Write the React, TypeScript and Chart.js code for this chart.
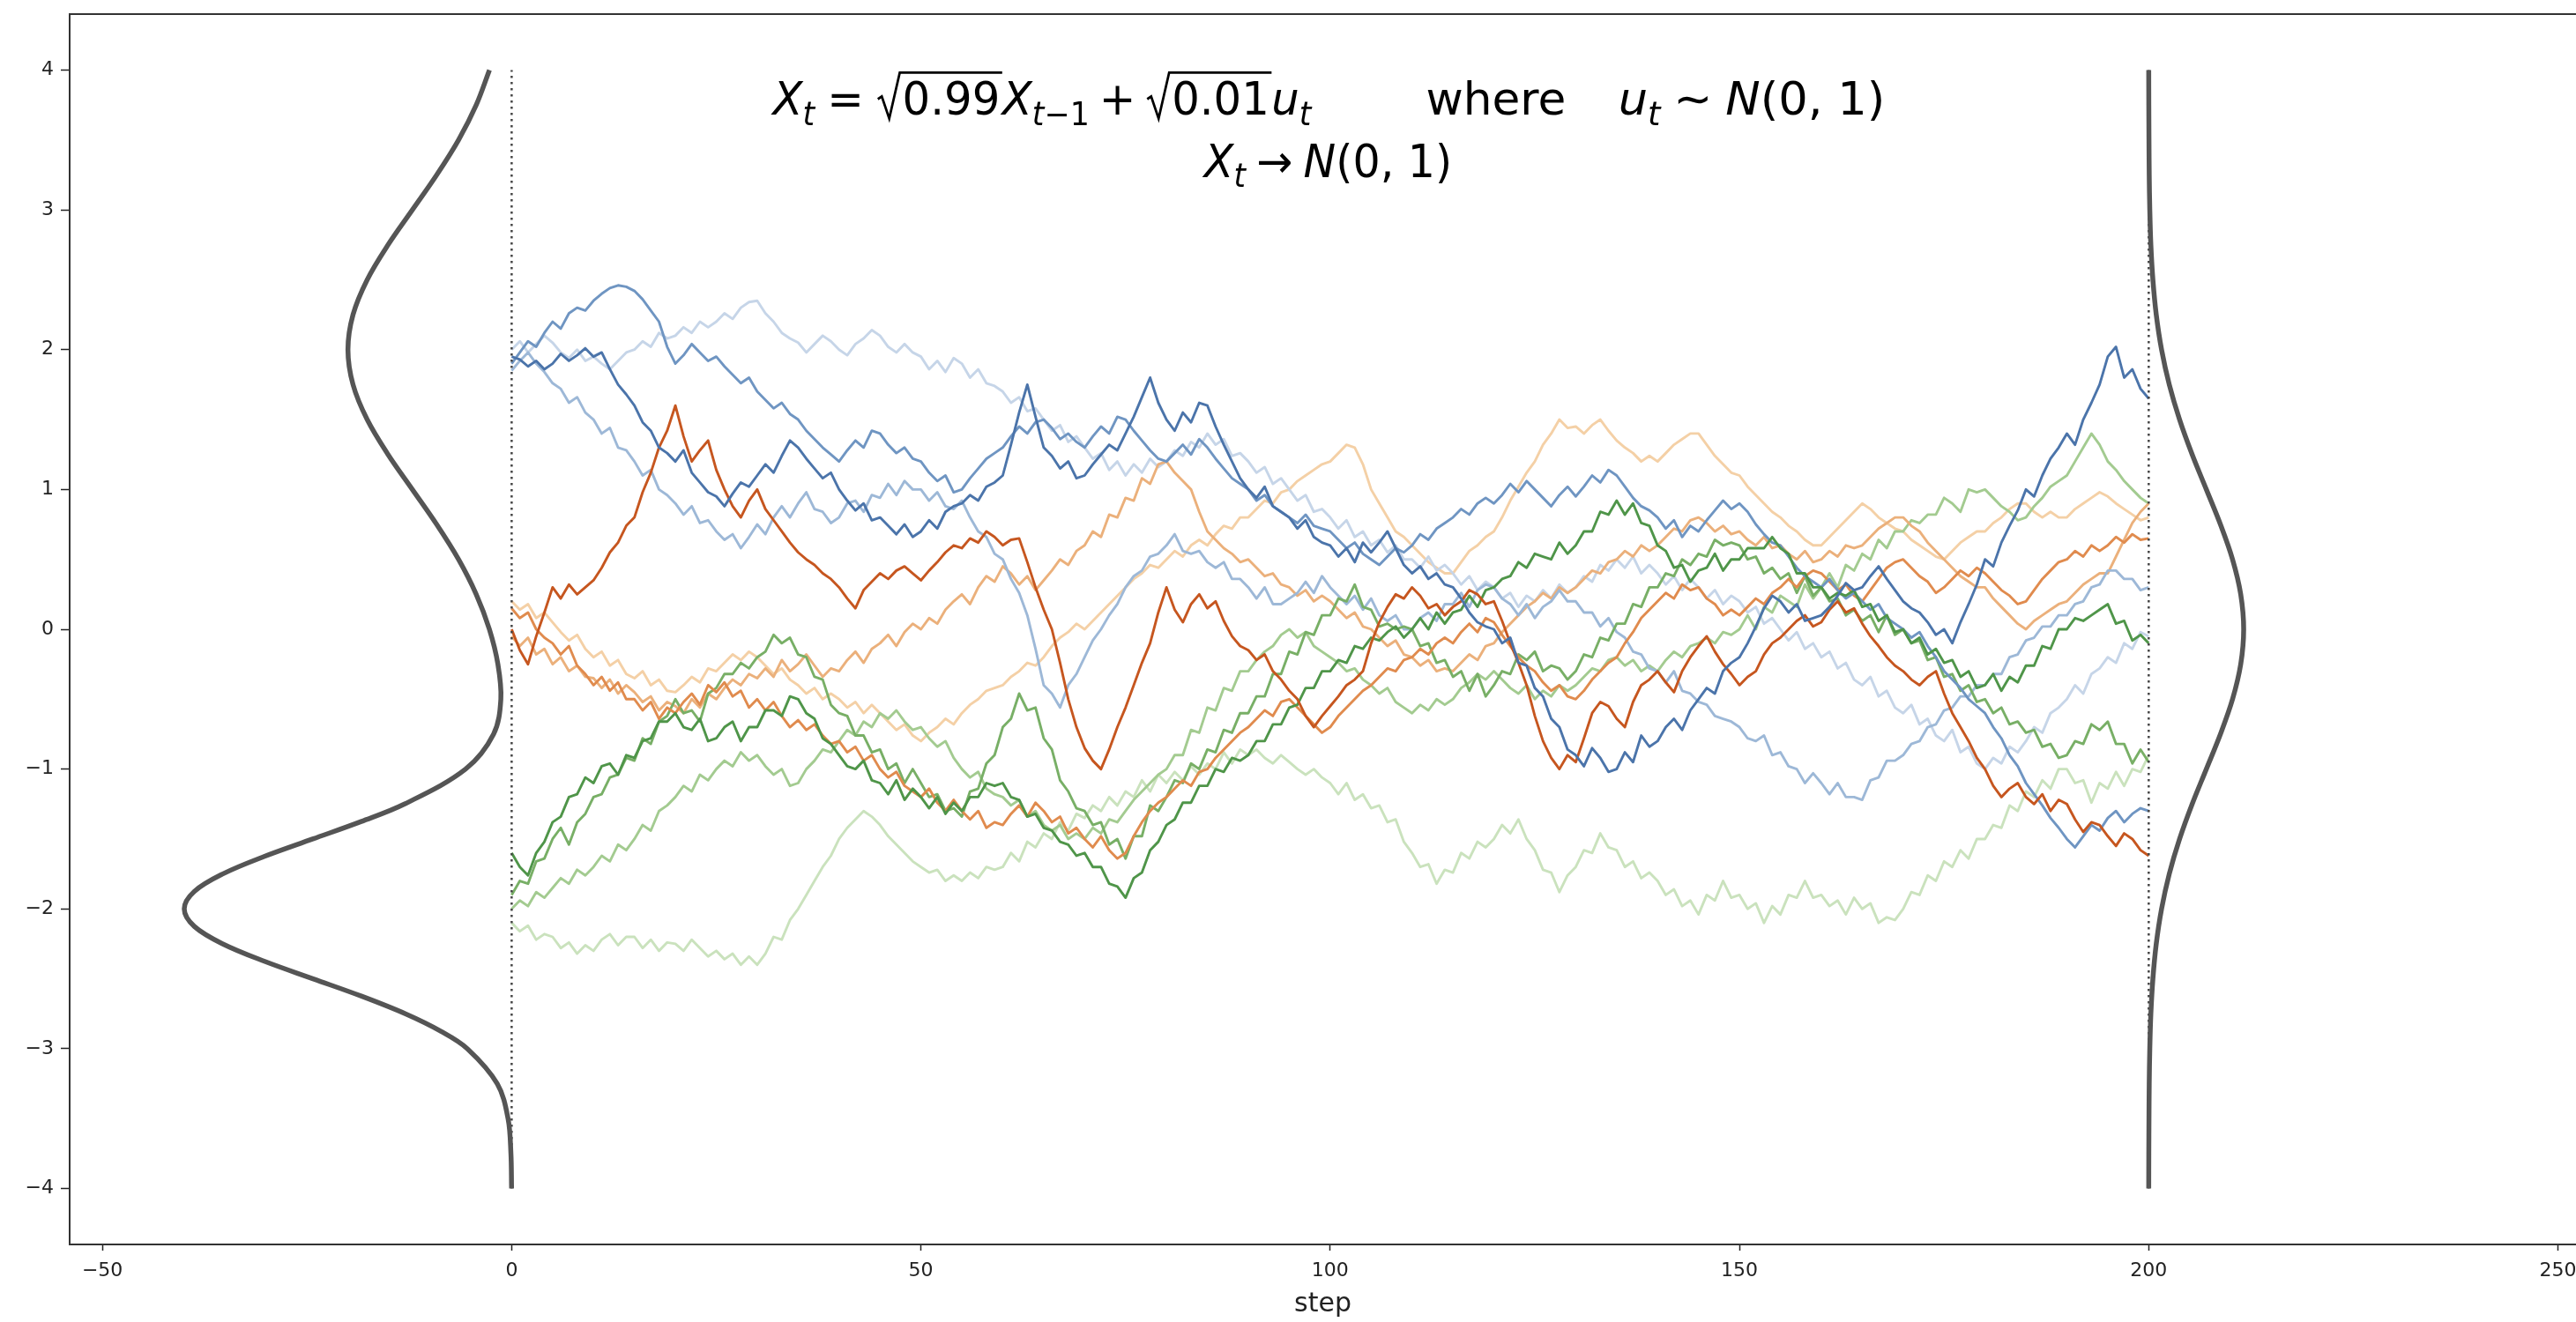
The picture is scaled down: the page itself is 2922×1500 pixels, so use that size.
import React, { useEffect, useRef } from 'react';
import { Chart, registerables } from 'chart.js';

Chart.register(...registerables);

// ---------- axes ----------
const STEPS = Array.from({ length: 201 }, (_, i) => i);
const X_TICKS = [-50, 0, 50, 100, 150, 200, 250];
const Y_TICKS = [-4, -3, -2, -1, 0, 1, 2, 3, 4];
const X_MIN = -54;
const X_MAX = 252.2;
const Y_MIN = -4.4;
const Y_MAX = 4.4;
const X_TITLE = 'step';

// ---------- random walks (value at each step 0..200) ----------
const BLUE_1 = [1.95,1.93,1.88,1.92,1.86,1.90,1.97,1.92,1.96,2.01,
1.95,1.98,1.86,1.75,1.68,1.60,1.48,1.42,1.30,1.26,
1.20,1.28,1.12,1.05,0.98,0.95,0.88,0.97,1.05,1.02,
1.10,1.18,1.12,1.24,1.35,1.30,1.22,1.15,1.08,1.12,
1.00,0.92,0.85,0.90,0.78,0.80,0.74,0.68,0.75,0.66,
0.70,0.78,0.72,0.84,0.88,0.90,0.96,0.92,1.02,1.05,
1.10,1.32,1.55,1.75,1.52,1.30,1.24,1.15,1.20,1.08,
1.10,1.18,1.25,1.32,1.28,1.40,1.52,1.66,1.80,1.62,
1.50,1.42,1.55,1.48,1.62,1.60,1.45,1.32,1.20,1.08,
1.00,0.94,1.02,0.88,0.84,0.80,0.72,0.78,0.66,0.62,
0.60,0.52,0.58,0.48,0.62,0.55,0.62,0.70,0.58,0.46,
0.40,0.45,0.36,0.40,0.32,0.30,0.22,0.12,0.05,0.02,
0.00,-0.10,-0.06,-0.24,-0.26,-0.42,-0.48,-0.64,-0.70,-0.86,
-0.90,-0.98,-0.85,-0.92,-1.02,-1.00,-0.88,-0.95,-0.76,-0.84,
-0.80,-0.70,-0.64,-0.72,-0.58,-0.50,-0.42,-0.46,-0.30,-0.24,
-0.20,-0.10,0.02,0.15,0.24,0.20,0.12,0.18,0.06,0.08,
0.10,0.16,0.24,0.33,0.28,0.30,0.38,0.45,0.36,0.28,
0.20,0.15,0.12,0.05,-0.04,0.00,-0.10,0.05,0.18,0.32,
0.50,0.45,0.62,0.74,0.85,1.00,0.95,1.10,1.22,1.30,
1.40,1.32,1.50,1.62,1.75,1.95,2.02,1.80,1.86,1.72,
1.65];

const BLUE_2 = [1.90,1.98,2.06,2.02,2.12,2.20,2.15,2.26,2.30,2.28,
2.35,2.40,2.44,2.46,2.45,2.42,2.36,2.28,2.20,2.02,
1.90,1.96,2.04,1.98,1.92,1.95,1.88,1.82,1.76,1.80,
1.70,1.64,1.58,1.62,1.54,1.50,1.42,1.36,1.30,1.25,
1.20,1.28,1.35,1.30,1.42,1.40,1.32,1.26,1.30,1.22,
1.20,1.12,1.06,1.10,0.98,1.00,1.08,1.15,1.22,1.26,
1.30,1.38,1.45,1.40,1.48,1.50,1.44,1.36,1.40,1.34,
1.30,1.38,1.45,1.40,1.52,1.50,1.42,1.35,1.28,1.22,
1.20,1.26,1.32,1.25,1.36,1.30,1.22,1.15,1.08,1.04,
1.00,0.92,0.96,0.88,0.84,0.80,0.76,0.82,0.74,0.72,
0.70,0.64,0.58,0.62,0.54,0.50,0.46,0.52,0.58,0.55,
0.60,0.68,0.64,0.72,0.76,0.80,0.86,0.82,0.90,0.94,
0.90,0.96,1.04,0.98,1.06,1.00,0.94,0.88,0.96,1.02,
0.95,1.02,1.10,1.05,1.14,1.10,1.02,0.94,0.88,0.85,
0.80,0.72,0.78,0.66,0.74,0.70,0.78,0.85,0.92,0.86,
0.90,0.84,0.75,0.68,0.62,0.60,0.52,0.44,0.38,0.34,
0.30,0.36,0.28,0.22,0.26,0.20,0.14,0.18,0.08,0.04,
0.00,-0.06,-0.02,-0.12,-0.20,-0.30,-0.36,-0.42,-0.50,-0.55,
-0.60,-0.70,-0.78,-0.90,-0.98,-1.10,-1.18,-1.26,-1.35,-1.42,
-1.50,-1.56,-1.48,-1.40,-1.44,-1.35,-1.30,-1.38,-1.32,-1.28,
-1.30];

const BLUE_3 = [1.85,1.92,1.98,1.90,1.84,1.76,1.72,1.62,1.66,1.55,
1.50,1.40,1.44,1.30,1.28,1.20,1.10,1.14,1.00,0.96,
0.90,0.82,0.88,0.76,0.78,0.70,0.64,0.68,0.58,0.66,
0.75,0.68,0.80,0.88,0.80,0.90,0.98,0.86,0.84,0.76,
0.80,0.90,0.92,0.84,0.96,0.94,1.04,0.96,1.06,1.00,
1.00,0.92,0.98,0.88,0.86,0.92,0.80,0.70,0.66,0.54,
0.50,0.36,0.26,0.10,-0.14,-0.40,-0.46,-0.56,-0.40,-0.32,
-0.20,-0.08,0.00,0.10,0.18,0.30,0.38,0.42,0.52,0.54,
0.60,0.68,0.56,0.54,0.56,0.48,0.44,0.48,0.36,0.36,
0.30,0.22,0.30,0.18,0.18,0.22,0.26,0.34,0.26,0.38,
0.30,0.24,0.18,0.24,0.14,0.22,0.10,0.06,0.10,0.00,
0.00,0.08,0.12,0.06,0.18,0.18,0.26,0.16,0.28,0.32,
0.30,0.22,0.18,0.10,0.18,0.08,0.16,0.20,0.28,0.20,
0.20,0.12,0.12,0.02,0.08,-0.02,-0.06,-0.16,-0.18,-0.28,
-0.30,-0.38,-0.30,-0.44,-0.46,-0.52,-0.54,-0.62,-0.64,-0.66,
-0.70,-0.78,-0.80,-0.76,-0.90,-0.88,-0.98,-1.00,-1.10,-1.03,
-1.10,-1.18,-1.10,-1.20,-1.20,-1.22,-1.08,-1.06,-0.94,-0.94,
-0.90,-0.82,-0.80,-0.70,-0.68,-0.58,-0.56,-0.48,-0.48,-0.40,
-0.40,-0.32,-0.32,-0.20,-0.18,-0.08,-0.06,0.02,0.02,0.10,
0.10,0.18,0.20,0.30,0.32,0.42,0.42,0.36,0.36,0.28,
0.30];

const BLUE_4 = [2.00,2.06,1.98,2.04,2.10,2.05,1.98,1.94,2.00,1.92,
1.95,1.90,1.86,1.92,1.98,2.00,2.06,2.02,2.12,2.08,
2.10,2.16,2.12,2.20,2.16,2.20,2.26,2.22,2.30,2.34,
2.35,2.26,2.20,2.12,2.08,2.05,1.98,2.04,2.10,2.06,
2.00,1.96,2.04,2.08,2.14,2.10,2.02,1.98,2.04,1.98,
1.95,1.86,1.92,1.84,1.94,1.90,1.80,1.86,1.76,1.74,
1.70,1.62,1.66,1.56,1.58,1.50,1.42,1.46,1.34,1.38,
1.30,1.22,1.26,1.14,1.20,1.10,1.18,1.12,1.22,1.16,
1.20,1.28,1.24,1.34,1.30,1.40,1.32,1.36,1.24,1.26,
1.20,1.12,1.16,1.04,1.08,1.00,0.92,0.96,0.84,0.86,
0.80,0.72,0.78,0.66,0.70,0.60,0.64,0.55,0.60,0.50,
0.50,0.44,0.52,0.42,0.46,0.40,0.32,0.38,0.28,0.34,
0.30,0.22,0.26,0.16,0.24,0.20,0.28,0.22,0.32,0.26,
0.30,0.38,0.34,0.46,0.42,0.50,0.44,0.52,0.40,0.46,
0.40,0.32,0.38,0.28,0.36,0.30,0.22,0.28,0.18,0.24,
0.20,0.12,0.16,0.04,0.08,0.00,-0.08,-0.02,-0.14,-0.10,
-0.20,-0.16,-0.28,-0.24,-0.36,-0.40,-0.34,-0.48,-0.44,-0.56,
-0.60,-0.54,-0.68,-0.64,-0.76,-0.80,-0.72,-0.88,-0.84,-0.96,
-1.00,-0.92,-0.96,-0.84,-0.88,-0.80,-0.70,-0.74,-0.60,-0.56,
-0.50,-0.40,-0.46,-0.32,-0.28,-0.20,-0.24,-0.10,-0.14,-0.02,
-0.05];

const ORANGE_1 = [0.00,-0.15,-0.25,-0.05,0.12,0.30,0.22,0.32,0.25,0.30,
0.35,0.44,0.55,0.62,0.74,0.80,0.98,1.12,1.30,1.42,
1.60,1.38,1.20,1.28,1.35,1.14,1.00,0.88,0.80,0.92,
1.00,0.86,0.78,0.70,0.62,0.55,0.50,0.46,0.40,0.36,
0.30,0.22,0.15,0.28,0.34,0.40,0.36,0.42,0.45,0.40,
0.35,0.42,0.48,0.55,0.60,0.58,0.65,0.62,0.70,0.66,
0.60,0.64,0.65,0.48,0.30,0.14,0.00,-0.24,-0.50,-0.70,
-0.85,-0.94,-1.00,-0.86,-0.70,-0.56,-0.40,-0.24,-0.10,0.12,
0.30,0.14,0.05,0.18,0.25,0.15,0.20,0.06,-0.05,-0.12,
-0.15,-0.22,-0.18,-0.30,-0.36,-0.44,-0.50,-0.62,-0.70,-0.62,
-0.55,-0.48,-0.40,-0.36,-0.30,-0.10,0.05,0.16,0.25,0.22,
0.30,0.24,0.15,0.18,0.10,0.16,0.20,0.28,0.25,0.18,
0.20,0.06,-0.10,-0.24,-0.40,-0.62,-0.80,-0.92,-1.00,-0.90,
-0.95,-0.78,-0.60,-0.52,-0.55,-0.64,-0.70,-0.52,-0.40,-0.36,
-0.30,-0.38,-0.45,-0.30,-0.20,-0.12,-0.05,-0.16,-0.25,-0.32,
-0.40,-0.34,-0.30,-0.18,-0.10,-0.06,0.00,0.06,0.10,0.02,
0.05,0.14,0.20,0.12,0.15,0.04,-0.05,-0.12,-0.20,-0.26,
-0.30,-0.36,-0.40,-0.34,-0.30,-0.46,-0.60,-0.70,-0.80,-0.92,
-1.00,-1.12,-1.20,-1.14,-1.10,-1.20,-1.25,-1.18,-1.30,-1.22,
-1.25,-1.36,-1.45,-1.38,-1.40,-1.48,-1.55,-1.46,-1.50,-1.58,
-1.62];

const ORANGE_2 = [0.15,0.08,0.12,0.00,-0.06,-0.10,-0.18,-0.12,-0.26,-0.32,
-0.40,-0.34,-0.44,-0.38,-0.50,-0.50,-0.58,-0.52,-0.64,-0.56,
-0.60,-0.52,-0.46,-0.54,-0.40,-0.45,-0.38,-0.48,-0.44,-0.56,
-0.50,-0.58,-0.52,-0.62,-0.70,-0.65,-0.72,-0.68,-0.76,-0.82,
-0.80,-0.88,-0.84,-0.94,-0.90,-1.00,-1.06,-1.02,-1.12,-1.16,
-1.20,-1.14,-1.24,-1.30,-1.22,-1.30,-1.36,-1.30,-1.42,-1.38,
-1.40,-1.32,-1.26,-1.34,-1.24,-1.30,-1.38,-1.34,-1.46,-1.42,
-1.50,-1.56,-1.48,-1.58,-1.64,-1.60,-1.48,-1.38,-1.30,-1.24,
-1.20,-1.14,-1.08,-1.12,-1.02,-1.00,-0.92,-0.86,-0.80,-0.74,
-0.70,-0.64,-0.58,-0.62,-0.52,-0.50,-0.56,-0.62,-0.68,-0.74,
-0.70,-0.62,-0.56,-0.50,-0.44,-0.40,-0.34,-0.28,-0.30,-0.22,
-0.20,-0.14,-0.18,-0.10,-0.06,-0.10,-0.02,0.04,-0.02,0.08,
0.05,-0.04,-0.12,-0.20,-0.26,-0.30,-0.38,-0.44,-0.40,-0.48,
-0.50,-0.44,-0.36,-0.30,-0.24,-0.20,-0.10,-0.02,0.08,0.14,
0.20,0.26,0.22,0.32,0.28,0.30,0.22,0.18,0.10,0.14,
0.10,0.16,0.22,0.18,0.26,0.30,0.36,0.30,0.38,0.42,
0.40,0.34,0.28,0.32,0.24,0.20,0.28,0.36,0.44,0.48,
0.50,0.44,0.38,0.34,0.26,0.30,0.36,0.42,0.38,0.44,
0.40,0.34,0.28,0.24,0.18,0.20,0.28,0.36,0.42,0.48,
0.50,0.56,0.52,0.60,0.56,0.60,0.66,0.62,0.68,0.64,
0.65];

const ORANGE_3 = [-0.05,-0.12,-0.06,-0.18,-0.14,-0.25,-0.20,-0.30,-0.26,-0.34,
-0.35,-0.42,-0.36,-0.46,-0.40,-0.45,-0.52,-0.48,-0.58,-0.52,
-0.55,-0.60,-0.50,-0.56,-0.46,-0.50,-0.42,-0.36,-0.40,-0.32,
-0.35,-0.28,-0.34,-0.22,-0.30,-0.25,-0.18,-0.26,-0.34,-0.28,
-0.30,-0.22,-0.16,-0.24,-0.14,-0.10,-0.04,-0.12,-0.02,0.04,
0.00,0.08,0.04,0.14,0.20,0.25,0.18,0.30,0.38,0.34,
0.45,0.40,0.32,0.38,0.28,0.35,0.42,0.50,0.46,0.56,
0.60,0.70,0.66,0.82,0.80,0.94,0.92,1.08,1.04,1.18,
1.20,1.12,1.06,1.00,0.84,0.70,0.64,0.58,0.54,0.48,
0.50,0.44,0.38,0.40,0.32,0.30,0.24,0.28,0.20,0.24,
0.20,0.14,0.08,0.12,0.02,0.00,-0.06,-0.12,-0.08,-0.18,
-0.20,-0.26,-0.22,-0.30,-0.28,-0.30,-0.24,-0.18,-0.22,-0.12,
-0.10,-0.02,0.04,0.10,0.16,0.20,0.26,0.22,0.30,0.26,
0.30,0.36,0.42,0.40,0.48,0.50,0.56,0.52,0.60,0.56,
0.60,0.66,0.72,0.70,0.78,0.80,0.76,0.70,0.74,0.68,
0.70,0.64,0.60,0.66,0.58,0.60,0.54,0.50,0.56,0.48,
0.50,0.56,0.52,0.60,0.58,0.60,0.66,0.72,0.76,0.80,
0.80,0.74,0.70,0.62,0.56,0.50,0.44,0.38,0.34,0.30,
0.30,0.22,0.16,0.10,0.04,0.00,0.06,0.10,0.14,0.18,
0.20,0.26,0.32,0.36,0.40,0.40,0.52,0.64,0.76,0.84,
0.90];

const ORANGE_4 = [0.20,0.14,0.18,0.08,0.12,0.05,-0.02,-0.08,-0.04,-0.14,
-0.20,-0.16,-0.26,-0.22,-0.32,-0.35,-0.30,-0.40,-0.36,-0.44,
-0.45,-0.40,-0.34,-0.38,-0.28,-0.30,-0.24,-0.18,-0.22,-0.16,
-0.20,-0.26,-0.32,-0.28,-0.36,-0.40,-0.46,-0.42,-0.50,-0.46,
-0.50,-0.56,-0.52,-0.60,-0.54,-0.60,-0.66,-0.72,-0.68,-0.76,
-0.80,-0.74,-0.70,-0.64,-0.68,-0.60,-0.54,-0.50,-0.44,-0.42,
-0.40,-0.34,-0.30,-0.24,-0.26,-0.20,-0.12,-0.06,-0.02,0.04,
0.00,0.06,0.12,0.18,0.24,0.30,0.36,0.40,0.46,0.44,
0.50,0.56,0.52,0.60,0.64,0.60,0.68,0.74,0.72,0.80,
0.80,0.86,0.92,0.90,0.98,1.00,1.06,1.10,1.14,1.18,
1.20,1.26,1.32,1.30,1.18,1.00,0.90,0.80,0.70,0.66,
0.60,0.54,0.48,0.44,0.40,0.40,0.48,0.56,0.60,0.66,
0.70,0.80,0.92,1.02,1.12,1.20,1.32,1.40,1.50,1.44,
1.45,1.40,1.46,1.50,1.42,1.35,1.30,1.26,1.20,1.24,
1.20,1.26,1.32,1.36,1.40,1.40,1.32,1.24,1.18,1.12,
1.10,1.02,0.96,0.90,0.84,0.80,0.74,0.70,0.64,0.60,
0.60,0.66,0.72,0.78,0.84,0.90,0.86,0.80,0.76,0.72,
0.70,0.64,0.60,0.56,0.52,0.50,0.56,0.62,0.66,0.70,
0.70,0.76,0.80,0.86,0.90,0.90,0.84,0.80,0.84,0.80,
0.80,0.86,0.90,0.94,0.98,0.95,0.90,0.86,0.82,0.78,
0.80];

const GREEN_1 = [-1.60,-1.70,-1.76,-1.60,-1.52,-1.38,-1.34,-1.20,-1.18,-1.06,
-1.10,-0.98,-0.96,-1.04,-0.90,-0.92,-0.80,-0.78,-0.66,-0.66,
-0.60,-0.70,-0.72,-0.64,-0.80,-0.78,-0.70,-0.66,-0.80,-0.70,
-0.70,-0.58,-0.58,-0.62,-0.48,-0.50,-0.60,-0.64,-0.78,-0.82,
-0.90,-0.98,-1.00,-0.94,-1.08,-1.10,-1.18,-1.08,-1.22,-1.14,
-1.20,-1.28,-1.20,-1.32,-1.24,-1.30,-1.20,-1.20,-1.10,-1.12,
-1.10,-1.20,-1.22,-1.34,-1.32,-1.42,-1.44,-1.52,-1.54,-1.62,
-1.60,-1.70,-1.70,-1.82,-1.84,-1.92,-1.78,-1.74,-1.58,-1.52,
-1.40,-1.36,-1.24,-1.24,-1.12,-1.12,-1.00,-1.02,-0.92,-0.94,
-0.90,-0.80,-0.80,-0.68,-0.68,-0.56,-0.54,-0.42,-0.42,-0.30,
-0.30,-0.22,-0.24,-0.12,-0.14,-0.06,-0.08,-0.02,0.02,-0.06,
0.00,0.08,0.00,0.12,0.04,0.12,0.14,0.24,0.16,0.28,
0.30,0.36,0.38,0.48,0.44,0.54,0.52,0.50,0.62,0.54,
0.60,0.70,0.70,0.84,0.82,0.92,0.82,0.90,0.76,0.74,
0.60,0.56,0.44,0.46,0.34,0.42,0.44,0.54,0.42,0.50,
0.50,0.58,0.58,0.58,0.66,0.58,0.54,0.40,0.40,0.30,
0.30,0.22,0.26,0.24,0.28,0.16,0.18,0.06,0.10,-0.02,
0.00,-0.10,-0.06,-0.18,-0.14,-0.24,-0.22,-0.34,-0.30,-0.42,
-0.40,-0.32,-0.44,-0.34,-0.38,-0.26,-0.26,-0.12,-0.14,0.00,
0.00,0.08,0.06,0.10,0.14,0.18,0.04,0.06,-0.08,-0.04,
-0.10];

const GREEN_2 = [-1.90,-1.80,-1.82,-1.66,-1.64,-1.50,-1.42,-1.54,-1.38,-1.32,
-1.20,-1.18,-1.06,-1.04,-0.92,-0.94,-0.78,-0.82,-0.66,-0.62,
-0.50,-0.60,-0.58,-0.66,-0.46,-0.42,-0.32,-0.32,-0.24,-0.28,
-0.20,-0.16,-0.04,-0.10,-0.06,-0.18,-0.20,-0.34,-0.36,-0.54,
-0.60,-0.62,-0.76,-0.76,-0.88,-0.86,-1.00,-0.96,-1.10,-1.00,
-1.10,-1.20,-1.18,-1.30,-1.28,-1.34,-1.16,-1.14,-0.96,-0.90,
-0.70,-0.64,-0.46,-0.58,-0.56,-0.78,-0.86,-1.08,-1.16,-1.28,
-1.30,-1.40,-1.38,-1.54,-1.50,-1.64,-1.48,-1.48,-1.26,-1.30,
-1.20,-1.08,-1.10,-0.96,-1.00,-0.86,-0.88,-0.72,-0.74,-0.60,
-0.60,-0.48,-0.48,-0.32,-0.32,-0.16,-0.18,-0.02,-0.04,0.10,
0.10,0.22,0.20,0.32,0.16,0.14,0.02,0.04,0.00,0.02,
0.00,-0.12,-0.10,-0.24,-0.22,-0.34,-0.30,-0.44,-0.32,-0.48,
-0.40,-0.30,-0.32,-0.18,-0.22,-0.16,-0.30,-0.26,-0.28,-0.36,
-0.30,-0.18,-0.20,-0.06,-0.08,0.04,0.04,0.18,0.16,0.30,
0.30,0.40,0.38,0.50,0.46,0.54,0.52,0.64,0.60,0.62,
0.60,0.50,0.52,0.40,0.44,0.36,0.40,0.26,0.38,0.24,
0.30,0.20,0.22,0.10,0.14,0.06,0.10,-0.02,0.10,-0.04,
0.00,-0.10,-0.08,-0.22,-0.20,-0.34,-0.32,-0.44,-0.40,-0.52,
-0.50,-0.60,-0.56,-0.68,-0.66,-0.74,-0.72,-0.84,-0.82,-0.92,
-0.90,-0.80,-0.82,-0.68,-0.72,-0.66,-0.82,-0.82,-0.96,-0.86,
-0.95];

const GREEN_3 = [-2.00,-1.94,-1.98,-1.88,-1.92,-1.85,-1.78,-1.82,-1.72,-1.76,
-1.70,-1.62,-1.66,-1.54,-1.58,-1.50,-1.40,-1.44,-1.30,-1.26,
-1.20,-1.12,-1.16,-1.04,-1.08,-1.00,-0.94,-0.98,-0.88,-0.94,
-0.90,-0.98,-1.04,-1.00,-1.12,-1.10,-1.00,-0.94,-0.86,-0.88,
-0.80,-0.72,-0.76,-0.66,-0.70,-0.60,-0.64,-0.58,-0.66,-0.72,
-0.70,-0.78,-0.84,-0.80,-0.92,-1.00,-1.06,-1.02,-1.14,-1.18,
-1.20,-1.26,-1.22,-1.34,-1.30,-1.40,-1.44,-1.40,-1.50,-1.46,
-1.50,-1.42,-1.46,-1.36,-1.38,-1.30,-1.22,-1.16,-1.10,-1.04,
-1.00,-0.90,-0.90,-0.72,-0.74,-0.56,-0.58,-0.42,-0.44,-0.30,
-0.30,-0.22,-0.16,-0.12,-0.04,0.00,-0.06,-0.02,-0.12,-0.16,
-0.20,-0.24,-0.30,-0.28,-0.36,-0.40,-0.46,-0.42,-0.52,-0.56,
-0.60,-0.54,-0.58,-0.50,-0.54,-0.50,-0.42,-0.38,-0.32,-0.36,
-0.30,-0.36,-0.42,-0.46,-0.40,-0.50,-0.44,-0.48,-0.40,-0.44,
-0.40,-0.34,-0.28,-0.30,-0.22,-0.20,-0.26,-0.22,-0.30,-0.26,
-0.30,-0.22,-0.16,-0.20,-0.12,-0.10,-0.06,-0.10,-0.02,-0.04,
0.00,0.10,0.00,0.16,0.12,0.24,0.20,0.16,0.32,0.22,
0.30,0.40,0.30,0.46,0.42,0.54,0.50,0.64,0.58,0.70,
0.70,0.78,0.76,0.82,0.82,0.94,0.90,0.84,1.00,0.98,
1.00,0.94,0.88,0.84,0.78,0.80,0.88,0.94,1.02,1.06,
1.10,1.20,1.30,1.40,1.32,1.20,1.14,1.06,1.00,0.94,
0.90];

const GREEN_4 = [-2.10,-2.16,-2.12,-2.22,-2.18,-2.20,-2.28,-2.24,-2.32,-2.26,
-2.30,-2.22,-2.18,-2.26,-2.20,-2.20,-2.28,-2.22,-2.30,-2.24,
-2.25,-2.30,-2.22,-2.28,-2.34,-2.30,-2.36,-2.32,-2.40,-2.34,
-2.40,-2.32,-2.20,-2.22,-2.08,-2.00,-1.90,-1.80,-1.70,-1.62,
-1.50,-1.42,-1.36,-1.30,-1.34,-1.40,-1.48,-1.54,-1.60,-1.66,
-1.70,-1.74,-1.72,-1.80,-1.76,-1.80,-1.74,-1.78,-1.70,-1.72,
-1.70,-1.60,-1.66,-1.52,-1.56,-1.46,-1.50,-1.38,-1.44,-1.32,
-1.35,-1.26,-1.30,-1.20,-1.26,-1.16,-1.20,-1.08,-1.16,-1.04,
-1.10,-1.02,-1.08,-0.98,-1.04,-0.96,-1.00,-0.88,-0.96,-0.86,
-0.90,-0.86,-0.92,-0.96,-0.90,-0.95,-1.00,-1.04,-1.00,-1.06,
-1.10,-1.18,-1.10,-1.22,-1.18,-1.28,-1.26,-1.38,-1.36,-1.52,
-1.60,-1.70,-1.68,-1.82,-1.72,-1.74,-1.60,-1.64,-1.52,-1.56,
-1.50,-1.40,-1.46,-1.36,-1.50,-1.58,-1.72,-1.74,-1.88,-1.76,
-1.70,-1.58,-1.60,-1.46,-1.56,-1.58,-1.70,-1.66,-1.78,-1.74,
-1.80,-1.90,-1.86,-1.98,-1.94,-2.04,-1.90,-1.94,-1.80,-1.92,
-1.90,-2.00,-1.96,-2.10,-1.98,-2.04,-1.90,-1.92,-1.80,-1.92,
-1.90,-1.98,-1.94,-2.04,-1.92,-2.00,-1.96,-2.10,-2.06,-2.08,
-2.00,-1.88,-1.90,-1.76,-1.80,-1.66,-1.70,-1.58,-1.64,-1.50,
-1.50,-1.40,-1.42,-1.26,-1.30,-1.16,-1.20,-1.08,-1.14,-1.00,
-1.00,-1.10,-1.08,-1.24,-1.10,-1.14,-1.02,-1.12,-1.00,-1.02,
-0.90];

const WALKS = [BLUE_1, ORANGE_1, GREEN_1, BLUE_2, ORANGE_2, GREEN_2, BLUE_3, ORANGE_3, GREEN_3, BLUE_4, ORANGE_4, GREEN_4];
const WALK_COLORS = ['#4b74aa', '#c6561f', '#4f9549', '#6f95c2', '#e08b4e', '#78af66', '#9db8d7', '#ebb07b', '#a3cb90', '#c6d5e8', '#f4d0a6', '#cae2bd'];

// ---------- density curves ----------
const LEFT_Y = [4, 3.75, 3.5, 3.25, 3, 2.75, 2.5, 2.25, 2, 1.75, 1.5, 1.25, 1, 0.75, 0.5, 0.25, 0, -0.25, -0.5, -0.75, -1, -1.25,
  -1.375, -1.5, -1.625, -1.75, -1.875, -2, -2.125, -2.25, -2.375, -2.5, -2.625, -2.75, -2.875, -3, -3.25, -3.5, -3.75, -4];
const LEFT_X = [-2.71, -4.33, -6.49, -9.16, -12.13, -15.10, -17.65, -19.38, -20.00, -19.38, -17.65, -15.10, -12.13, -9.16, -6.49, -4.33, -2.72, -1.68, -1.32, -2.21, -5.63, -13.09,
  -18.38, -24.30, -30.22, -35.30, -38.77, -40.00, -38.77, -35.30, -30.19, -24.26, -18.31, -12.99, -8.65, -5.41, -1.76, -0.44, -0.09, -0.01];
const RIGHT_Y = [4, 3.75, 3.5, 3.25, 3, 2.75, 2.5, 2.25, 2, 1.75, 1.5, 1.25, 1, 0.75, 0.5, 0.25, 0,
  -0.25, -0.5, -0.75, -1, -1.25, -1.5, -1.75, -2, -2.25, -2.5, -2.75, -3, -3.25, -3.5, -3.75, -4];
const RIGHT_X = [200.00, 200.01, 200.03, 200.06, 200.13, 200.26, 200.51, 200.92, 201.57, 202.51, 203.77, 205.31, 207.04, 208.76, 210.24, 211.24, 211.60,
  211.24, 210.24, 208.76, 207.04, 205.31, 203.77, 202.51, 201.57, 200.92, 200.51, 200.26, 200.13, 200.06, 200.03, 200.01, 200.00];
const GUIDE_XS = [0, 200];
const GUIDE_Y = [-4, 4];

// ---------- formula text (placed in data coordinates) ----------
type Tok = { s?: string; it?: boolean; sub?: boolean; sqrt?: string; sp?: number };
const LINE1_A: Tok[] = [
  { s: 'X', it: true }, { s: 't', it: true, sub: true }, { sp: 0.28 }, { s: '=' }, { sp: 0.28 },
  { sqrt: '0.99' }, { s: 'X', it: true }, { s: 't', it: true, sub: true }, { s: '\u22121', sub: true }, { sp: 0.22 },
  { s: '+' }, { sp: 0.22 }, { sqrt: '0.01' }, { s: 'u', it: true }, { s: 't', it: true, sub: true },
];
const LINE1_B: Tok[] = [{ s: 'where' }];
const LINE1_C: Tok[] = [
  { s: 'u', it: true }, { s: 't', it: true, sub: true }, { sp: 0.28 }, { s: '\u223C' }, { sp: 0.28 },
  { s: 'N', it: true }, { s: '(0, 1)' },
];
const LINE2: Tok[] = [
  { s: 'X', it: true }, { s: 't', it: true, sub: true }, { sp: 0.25 }, { s: '\u2192' }, { sp: 0.25 },
  { s: 'N', it: true }, { s: '(0, 1)' },
];
// [tokens, left x, right x, baseline y] in data units
const TEXT_PARTS: [Tok[], number, number, number][] = [
  [LINE1_A, 31.9, 97.7, 3.68],
  [LINE1_B, 111.7, 128.8, 3.68],
  [LINE1_C, 135.2, 167.8, 3.68],
  [LINE2, 84.6, 114.9, 3.235],
];

const FONT = '"DejaVu Sans"';
const FS = 52;

function fontFor(size: number, it?: boolean) {
  return `${it ? 'italic ' : ''}${size}px ${FONT}`;
}
function tokWidth(ctx: CanvasRenderingContext2D, tok: Tok, F: number) {
  if (tok.sp) return tok.sp * F;
  if (tok.sqrt) {
    ctx.font = fontFor(F);
    return 0.6 * F + ctx.measureText(tok.sqrt).width + 0.05 * F;
  }
  ctx.font = fontFor(tok.sub ? F * 0.7 : F, tok.it);
  return ctx.measureText(tok.s || '').width;
}
function drawToks(ctx: CanvasRenderingContext2D, toks: Tok[], F: number) {
  let x = 0;
  for (const tok of toks) {
    const w = tokWidth(ctx, tok, F);
    if (tok.sp) { x += w; continue; }
    if (tok.sqrt) {
      ctx.beginPath();
      ctx.lineWidth = 0.055 * F;
      ctx.lineJoin = 'miter';
      ctx.moveTo(x + 0.04 * F, -0.34 * F);
      ctx.lineTo(x + 0.13 * F, -0.40 * F);
      ctx.lineTo(x + 0.30 * F, 0.08 * F);
      ctx.lineTo(x + 0.54 * F, -0.92 * F);
      ctx.lineTo(x + w, -0.92 * F);
      ctx.stroke();
      ctx.font = fontFor(F);
      ctx.fillText(tok.sqrt, x + 0.6 * F, 0);
    } else {
      ctx.font = fontFor(tok.sub ? F * 0.7 : F, tok.it);
      ctx.fillText(tok.s || '', x, tok.sub ? 0.22 * F : 0);
    }
    x += w;
  }
  return x;
}

const formulaPlugin = {
  id: 'formula',
  afterDatasetsDraw(chart: any) {
    const ctx: CanvasRenderingContext2D = chart.ctx;
    const xs = chart.scales.x;
    const ys = chart.scales.y;
    ctx.save();
    ctx.fillStyle = '#000';
    ctx.strokeStyle = '#000';
    ctx.textBaseline = 'alphabetic';
    ctx.textAlign = 'left';
    for (const [toks, x0, x1, yb] of TEXT_PARTS) {
      let natural = 0;
      for (const t of toks) natural += tokWidth(ctx, t, FS);
      const left = xs.getPixelForValue(x0);
      const right = xs.getPixelForValue(x1);
      const base = ys.getPixelForValue(yb);
      const sx = (right - left) / natural;
      ctx.save();
      ctx.translate(left, base);
      ctx.scale(sx, 1);
      drawToks(ctx, toks, FS);
      ctx.restore();
    }
    ctx.restore();
  },
};

const framePlugin = {
  id: 'frameTop',
  afterDraw(chart: any) {
    const { ctx, chartArea } = chart;
    ctx.save();
    ctx.strokeStyle = '#333';
    ctx.lineWidth = 2;
    ctx.beginPath();
    ctx.moveTo(chartArea.left - 1, chartArea.top);
    ctx.lineTo(chartArea.right, chartArea.top);
    ctx.stroke();
    ctx.restore();
  },
};

const fmt = (v: number) => (v < 0 ? '\u2212' + Math.abs(v) : String(v));

export default function App() {
  const ref = useRef<HTMLCanvasElement>(null);
  useEffect(() => {
    const canvas = ref.current;
    if (!canvas) return;
    const datasets: any[] = [];
    datasets.push({
      data: LEFT_Y.map((y, i) => ({ x: LEFT_X[i], y })),
      borderColor: '#555555', borderWidth: 5.5, tension: 0.35, pointRadius: 0, fill: false,
    });
    datasets.push({
      data: RIGHT_Y.map((y, i) => ({ x: RIGHT_X[i], y })),
      borderColor: '#555555', borderWidth: 5.5, tension: 0.35, pointRadius: 0, fill: false,
    });
    GUIDE_XS.forEach((gx) => {
      datasets.push({
        data: GUIDE_Y.map((y) => ({ x: gx, y })),
        borderColor: '#444444', borderWidth: 2.5, borderDash: [2.5, 4.5], pointRadius: 0, fill: false,
      });
    });
    WALKS.forEach((vals, k) => {
      datasets.push({
        data: STEPS.map((s, i) => ({ x: s, y: vals[i] })),
        borderColor: WALK_COLORS[k], borderWidth: 2.9, tension: 0, pointRadius: 0, fill: false,
        borderJoinStyle: 'round',
      });
    });

    const chart = new Chart(canvas, {
      type: 'line',
      data: { datasets },
      plugins: [formulaPlugin, framePlugin],
      options: {
        animation: false,
        responsive: false,
        devicePixelRatio: 1,
        parsing: false as any,
        normalized: true,
        layout: { padding: { top: 16, left: 0, right: 0, bottom: 0 } },
        plugins: { legend: { display: false }, tooltip: { enabled: false } },
        events: [],
        scales: {
          x: {
            type: 'linear',
            min: X_MIN,
            max: X_MAX,
            afterBuildTicks: (s: any) => { s.ticks = X_TICKS.map((v) => ({ value: v })); },
            afterFit: (s: any) => { s.height = 88; s.paddingLeft = 0; s.paddingRight = 0; },
            grid: { display: true, drawOnChartArea: false, drawTicks: true, tickLength: 7, tickColor: '#222', tickWidth: 1.5 },
            border: { display: true, color: '#333', width: 2 },
            ticks: {
              font: { family: FONT, size: 22 }, color: '#222', padding: 10, maxRotation: 0, autoSkip: false,
              callback: (v: any) => fmt(Number(v)),
            },
            title: {
              display: true, text: X_TITLE, color: '#222',
              font: { family: FONT, size: 30 }, padding: { top: 0, bottom: 2 },
            },
          },
          y: {
            type: 'linear',
            min: Y_MIN,
            max: Y_MAX,
            afterBuildTicks: (s: any) => { s.ticks = Y_TICKS.map((v) => ({ value: v })); },
            afterFit: (s: any) => { s.width = 79; s.paddingTop = 0; s.paddingBottom = 0; },
            grid: { display: true, drawOnChartArea: false, drawTicks: true, tickLength: 10, tickColor: '#222', tickWidth: 1.5 },
            border: { display: true, color: '#333', width: 2 },
            ticks: {
              font: { family: FONT, size: 22 }, color: '#222', padding: 8, autoSkip: false,
              callback: (v: any) => fmt(Number(v)),
            },
          },
        },
      } as any,
    });
    return () => chart.destroy();
  }, []);

  return (
    <div style={{ position: 'fixed', left: 0, top: 0, width: 2922, height: 1500, background: '#ffffff' }}>
      <canvas ref={ref} width={2922} height={1500} style={{ width: 2922, height: 1500, display: 'block' }} />
    </div>
  );
}
